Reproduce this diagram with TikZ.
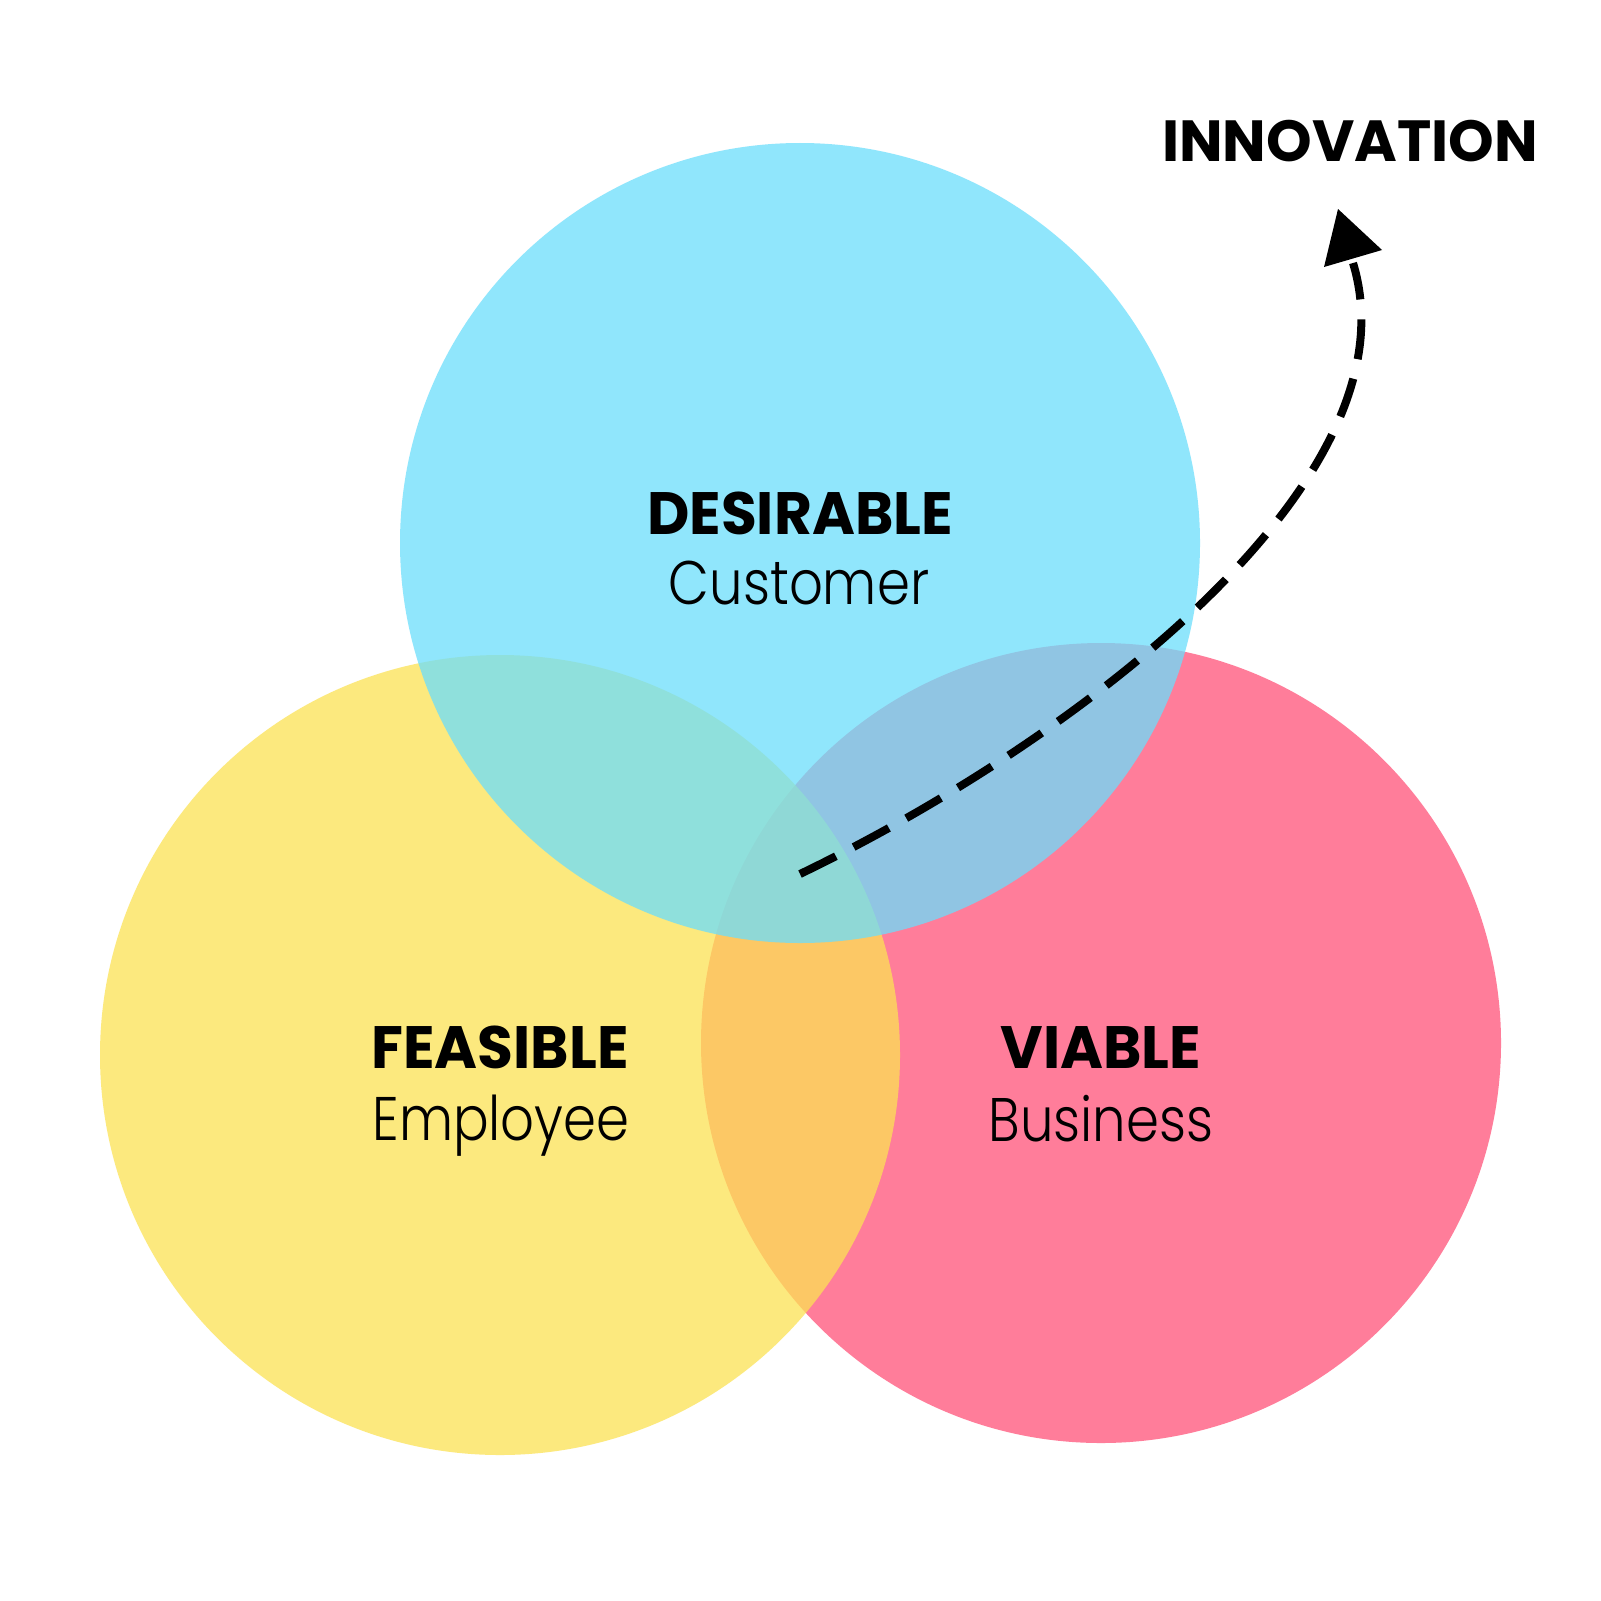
\documentclass[tikz,border=0pt]{standalone}
\usepackage{fontspec}
\setmainfont{Poppins}
\IfFontExistsTF{Poppins Light}{\newfontfamily\lightfont{Poppins Light}[FakeStretch=0.86]}{\newfontfamily\lightfont{Poppins}[FakeStretch=0.86]}
\newfontfamily\titlefont{Poppins}[FakeStretch=0.975]
\definecolor{cblue}{RGB}{107,222,252}
\definecolor{cyellow}{RGB}{252,226,84}
\definecolor{cpink}{RGB}{255,125,154}
\tikzset{
  venn/.style={fill opacity=0.75, draw=none},
  title/.style={font=\fontsize{17}{20}\titlefont\bfseries, anchor=base, inner sep=0pt},
  sub/.style={font=\fontsize{17.5}{20}\lightfont, anchor=base, inner sep=0pt},
  flow/.style={line width=0.08cm, dash pattern=on 0.40cm off 0.20cm, line cap=butt},
}
\begin{document}
\begin{tikzpicture}[x=0.01cm,y=-0.01cm]
\useasboundingbox (0,0) rectangle (1601,1600);
\fill[white] (0,0) rectangle (1601,1600);
% circles
\fill[draw=none, fill=cpink] (1101,1043) circle[radius=400];
\fill[venn, fill=cyellow] (500,1055) circle[radius=400];
\fill[venn, fill=cblue] (800,543) circle[radius=400];
% labels
\node[title] (des) at (800,534) {DESIRABLE};
\node[sub] (cus) at (799,604) {Customer};
\node[title] (fea) at (500,1068) {FEASIBLE};
\node[sub] (emp) at (501,1140) {Employee};
\node[title] (via) at (1101,1068) {VIABLE};
\node[sub] (bus) at (1101,1141) {Business};
\node[title, font=\fontsize{16.5}{20}\selectfont\bfseries] (inn) at (1350,162) {INNOVATION};
% connector
\coordinate (start) at (800,874);
\coordinate (c1) at (1070,744);
\coordinate (c2) at (1420,483);
\coordinate (stop) at (1353,263);
\draw[flow] (start) .. controls (c1) and (c2) .. (stop);
\coordinate (tip) at (1338,209);
\coordinate (wa) at (1382,250);
\coordinate (wb) at (1324,267);
\fill (tip) -- (wa) -- (wb) -- cycle;
\end{tikzpicture}
\end{document}
